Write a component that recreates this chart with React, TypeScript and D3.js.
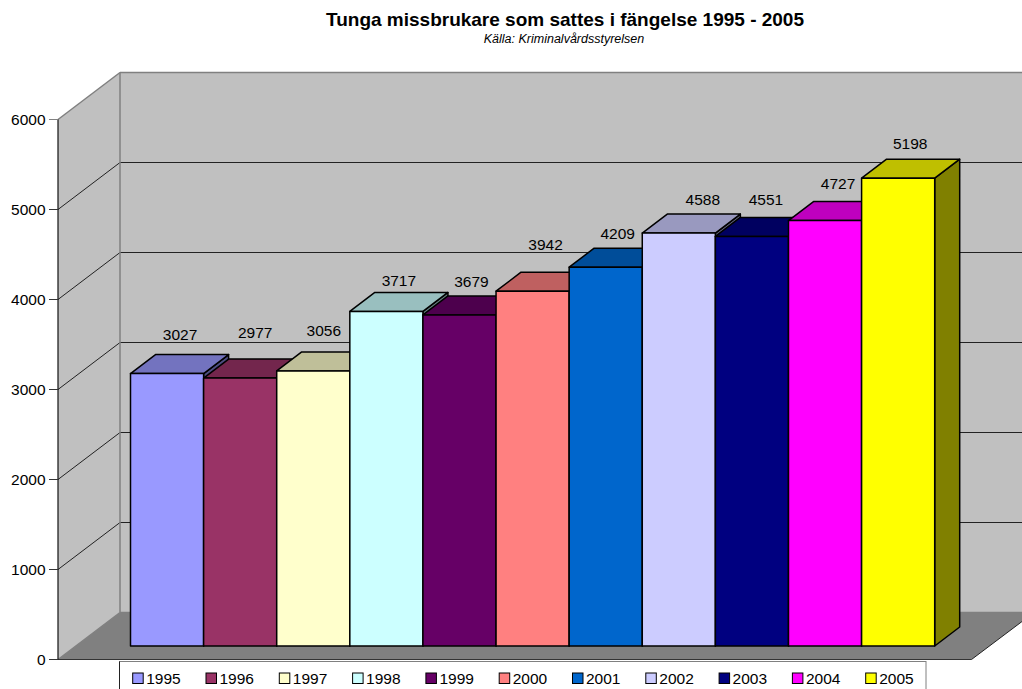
import React from "react";
import * as d3 from "d3";

const years = ["1995","1996","1997","1998","1999","2000","2001","2002","2003","2004","2005"];
const values = [3027,2977,3056,3717,3679,3942,4209,4588,4551,4727,5198];
const colors = ["#9999FF","#993366","#FFFFCC","#CCFFFF","#660066","#FF8080","#0066CC","#CCCCFF","#000080","#FF00FF","#FFFF00"];
const yTicks = [0,1000,2000,3000,4000,5000,6000];
const titleText = "Tunga missbrukare som sattes i fängelse 1995 - 2005";
const subtitleText = "Källa: Kriminalvårdsstyrelsen";
// hand-placed label nudges of the reference chart (px)
const labelDx = [13,15,10.5,12.5,12,13,12,24,14,13,12];
const labelDy = [20,27,21,12,14,28,15,15,18,18,16];

const FONT = "'Liberation Sans', Arial, sans-serif";
const W = 1022, H = 689;
const y = d3.scaleLinear().domain([0, 6000]).range([659.5, 119.5]);
const x = d3.scaleBand<string>().domain(years).range([130.5, 934.7]).padding(0);
const wallDx = 62, wallDy = -47;
const barBaseDy = -13.5, barDx = 25, barDy = -19;
const legendX = d3.scaleBand<string>().domain(years).range([132.7, 132.7 + 73.3 * 11]);

const poly = (p: number[][]) => p.map(q => q.join(",")).join(" ");
const c = (col: string, k: number) => {
  const r = d3.rgb(col);
  return d3.rgb(r.r * k, r.g * k, r.b * k).formatHex();
};

export default function App() {
  const y0 = y(0), yTop = y(6000);
  const bw = x.bandwidth();
  return (
    <svg width={W} height={H} viewBox={`0 0 ${W} ${H}`}
      style={{ position: "absolute", left: 0, top: 0, background: "#fff" }} fontFamily={FONT}>
      <text x={565} y={26} textAnchor="middle" fontSize={19} fontWeight="bold" fill="#000">{titleText}</text>
      <text x={564} y={43} textAnchor="middle" fontSize={12.5} fontStyle="italic" fill="#000">{subtitleText}</text>

      {/* walls */}
      <rect x={58 + wallDx} y={yTop + wallDy} width={W} height={y0 - yTop} fill="#C0C0C0" />
      <polygon points={poly([[58, yTop],[58 + wallDx, yTop + wallDy],[58 + wallDx, y0 + wallDy],[58, y0]])} fill="#C0C0C0" />
      <polygon points={poly([[58, y0],[58 + wallDx, y0 + wallDy],[1034, y0 + wallDy],[971.5, y0]])} fill="#808080" />

      {/* gridlines */}
      {yTicks.slice(1, -1).map(t => (
        <g key={t} stroke="#222" strokeWidth={1} fill="none">
          <line x1={58} y1={y(t)} x2={58 + wallDx} y2={y(t) + wallDy} />
          <line x1={58 + wallDx} y1={y(t) + wallDy} x2={W} y2={y(t) + wallDy} />
        </g>
      ))}
      {/* wall edges */}
      <g stroke="#808080" strokeWidth={1.5} fill="none">
        <line x1={58} y1={yTop} x2={58 + wallDx} y2={yTop + wallDy} />
        <line x1={58 + wallDx} y1={yTop + wallDy} x2={W} y2={yTop + wallDy} />
        <line x1={58 + wallDx} y1={yTop + wallDy} x2={58 + wallDx} y2={y0 + wallDy} />
        <line x1={58 + wallDx} y1={y0 + wallDy} x2={W} y2={y0 + wallDy} />
        <line x1={58} y1={y0} x2={58 + wallDx} y2={y0 + wallDy} />
      </g>
      <line x1={58} y1={y0} x2={971.5} y2={y0} stroke="#333" strokeWidth={1.2} />
      <line x1={971.5} y1={y0} x2={1034} y2={y0 + wallDy} stroke="#222" strokeWidth={1} />

      {/* y axis */}
      <line x1={58} y1={yTop} x2={58} y2={y0} stroke="#111" strokeWidth={1.2} />
      {yTicks.map(t => (
        <g key={t}>
          <line x1={49} y1={y(t)} x2={58} y2={y(t)} stroke={t === 6000 ? "#808080" : "#333"} strokeWidth={1} />
          <text x={45.5} y={y(t) + 5.5} textAnchor="end" fontSize={15.5} fill="#000">{t}</text>
        </g>
      ))}

      {/* bars */}
      <g stroke="#000" strokeWidth={1.5} strokeLinejoin="round">
        {years.map((yr, i) => {
          const l = x(yr)!, r = l + bw;
          const b = y(0) + barBaseDy, t = y(values[i]) + barBaseDy;
          return (
            <g key={yr}>
              <polygon points={poly([[r, b],[r + barDx, b + barDy],[r + barDx, t + barDy],[r, t]])} fill={c(colors[i], 0.5)} />
              <polygon points={poly([[l, t],[l + barDx, t + barDy],[r + barDx, t + barDy],[r, t]])} fill={c(colors[i], 0.75)} />
              <rect x={l} y={t} width={bw} height={b - t} fill={colors[i]} />
            </g>
          );
        })}
      </g>

      {/* data labels */}
      {years.map((yr, i) => (
        <text key={yr} x={x(yr)! + bw / 2 + labelDx[i]}
          y={y(values[i]) + barBaseDy + barDy - labelDy[i] + 5.5}
          textAnchor="middle" fontSize={15.5} fill="#000">{values[i]}</text>
      ))}

      {/* legend */}
      <rect x={119.5} y={661.5} width={806.5} height={40} fill="#fff" stroke="#808080" strokeWidth={1} />
      <line x1={119.5} y1={661.5} x2={119.5} y2={689} stroke="#222" strokeWidth={1} />
      {years.map((yr, i) => {
        const lx = legendX(yr)!;
        return (
          <g key={yr}>
            <rect x={lx} y={673} width={10.5} height={10.5} fill={colors[i]} stroke="#000" strokeWidth={1} />
            <text x={lx + 13.5} y={683.5} fontSize={15.5} fill="#000">{yr}</text>
          </g>
        );
      })}
    </svg>
  );
}
